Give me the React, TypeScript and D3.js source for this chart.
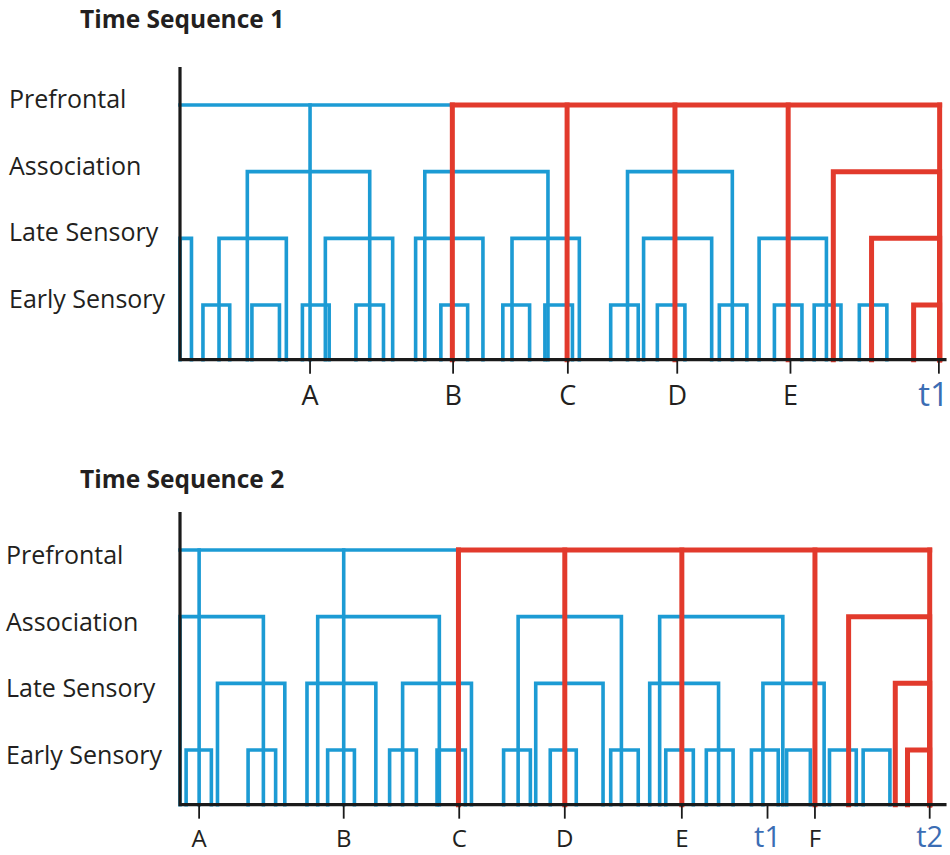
import { useEffect, useRef } from 'react';
import * as d3 from 'd3';

// Hand-drawn "dendrogram" of processing levels over time.
// x positions are in time units (0 = y axis, 100 = right end of the axis).

const LEVELS = ['Prefrontal', 'Association', 'Late Sensory', 'Early Sensory'];

type Seg = [number, number, string];          // from, to, colour
type Stem = [number, string];                 // time, colour (drops from Prefrontal)
type Bracket = [number, number, number, string]; // level, left, right, colour

// ---- Time Sequence 1 ----
const seq1Spine: Seg[] = [[0, 35.6, 'b'], [35.6, 99.3, 'r']];
const seq1Stems: Stem[] = [[17.0, 'b'], [35.6, 'r'], [50.6, 'r'], [64.7, 'r'], [79.5, 'r'], [99.3, 'r']];
const seq1Brackets: Bracket[] = [
  [1, 8.8, 24.8, 'b'], [1, 32.0, 48.1, 'b'], [1, 58.5, 72.2, 'b'], [1, 85.4, 99.3, 'r'],
  [2, 0, 1.5, 'b'], [2, 5.1, 13.9, 'b'], [2, 19.0, 27.8, 'b'], [2, 30.8, 39.6, 'b'],
  [2, 43.4, 52.2, 'b'], [2, 60.6, 69.5, 'b'], [2, 75.7, 84.5, 'b'], [2, 90.4, 99.3, 'r'],
  [3, 3.0, 6.5, 'b'], [3, 9.4, 13.0, 'b'], [3, 16.0, 19.5, 'b'], [3, 23.0, 26.6, 'b'],
  [3, 34.1, 37.6, 'b'], [3, 42.2, 45.7, 'b'], [3, 47.7, 51.3, 'b'], [3, 56.3, 59.9, 'b'],
  [3, 62.4, 66.0, 'b'], [3, 70.5, 74.1, 'b'], [3, 77.7, 81.3, 'b'], [3, 82.9, 86.4, 'b'],
  [3, 88.8, 92.4, 'b'], [3, 95.9, 99.3, 'r'],
];
const seq1Ticks = ['A', 'B', 'C', 'D', 'E', 't1'];
const seq1TickPos = [17.0, 35.7, 50.7, 65.0, 79.8, 99.2];

// ---- Time Sequence 2 ----
const seq2Spine: Seg[] = [[0, 36.4, 'b'], [36.4, 98.0, 'r']];
const seq2Stems: Stem[] = [[2.5, 'b'], [21.4, 'b'], [36.4, 'r'], [50.3, 'r'], [65.6, 'r'], [83.0, 'r'], [98.0, 'r']];
const seq2Brackets: Bracket[] = [
  [1, 0, 10.9, 'b'], [1, 18.0, 33.9, 'b'], [1, 44.2, 57.7, 'b'], [1, 62.7, 78.8, 'b'], [1, 87.4, 98.0, 'r'],
  [2, 4.9, 13.7, 'b'], [2, 16.6, 25.6, 'b'], [2, 29.1, 38.1, 'b'], [2, 46.5, 55.3, 'b'],
  [2, 61.4, 70.4, 'b'], [2, 76.2, 84.2, 'b'], [2, 93.5, 98.0, 'r'],
  [3, 0.8, 4.1, 'b'], [3, 8.9, 12.5, 'b'], [3, 19.3, 22.8, 'b'], [3, 27.4, 30.9, 'b'],
  [3, 33.6, 37.3, 'b'], [3, 42.3, 45.8, 'b'], [3, 48.4, 51.8, 'b'], [3, 56.3, 59.9, 'b'],
  [3, 63.5, 67.1, 'b'], [3, 68.8, 72.3, 'b'], [3, 74.7, 78.2, 'b'], [3, 79.3, 82.4, 'b'],
  [3, 84.9, 88.4, 'b'], [3, 89.3, 92.8, 'b'], [3, 95.1, 98.0, 'r'],
];
const seq2Ticks = ['A', 'B', 'C', 'D', 'E', 't1', 'F', 't2'];
const seq2TickPos = [2.5, 21.4, 36.5, 50.3, 65.6, 76.8, 83.0, 98.0];

const COLORS: Record<string, string> = {
  b: '#1c9bd4',
  r: '#e23a2c',
  axis: '#1a1a1a',
  text: '#231f20',
  time: '#3b6db4',
};
const WIDTH: Record<string, number> = { b: 3.6, r: 5 };
const FONT = '"Open Sans", "Noto Sans", sans-serif';

interface PanelSpec {
  title: string;
  titleY: number;
  labelX: number;
  labelDy: number;
  tickFont: number;
  timeFont: number;
  tickDy: number;
  timeDy: number;
  top: number; // y of the Prefrontal level
  spine: Seg[];
  stems: Stem[];
  brackets: Bracket[];
  ticks: string[];
  tickPos: number[];
}

const PANELS: PanelSpec[] = [
  {
    title: 'Time Sequence 1', titleY: 28, labelX: 9, labelDy: 3, tickFont: 27, timeFont: 33, tickDy: 45, timeDy: 46.5,
    top: 105, spine: seq1Spine, stems: seq1Stems, brackets: seq1Brackets, ticks: seq1Ticks, tickPos: seq1TickPos,
  },
  {
    title: 'Time Sequence 2', titleY: 488, labelX: 6, labelDy: 14, tickFont: 24, timeFont: 29, tickDy: 42.5, timeDy: 42,
    top: 550, spine: seq2Spine, stems: seq2Stems, brackets: seq2Brackets, ticks: seq2Ticks, tickPos: seq2TickPos,
  },
];

export default function App() {
  const svgRef = useRef<SVGSVGElement>(null);

  useEffect(() => {
    document.body.style.margin = '0';
    if (!svgRef.current) return;
    const svg = d3.select(svgRef.current);
    svg.selectAll('*').remove();

    const x = d3.scaleLinear().domain([0, 100]).range([180, 945]);

    PANELS.forEach((p) => {
      const y = d3.scaleLinear().domain([0, 3]).range([p.top, p.top + 200]);
      const base = y(3.82);
      const g = svg.append('g');

      // title
      g.append('text')
        .attr('x', 80)
        .attr('y', p.titleY)
        .attr('font-family', FONT)
        .attr('font-size', 24.5)
        .attr('font-weight', 700)
        .attr('fill', COLORS.text)
        .text(p.title);

      // level labels
      g.selectAll('text.level')
        .data(LEVELS)
        .join('text')
        .attr('class', 'level')
        .attr('x', p.labelX)
        .attr('y', (_, i) => y(i) + p.labelDy)
        .attr('font-family', FONT)
        .attr('font-size', 25)
        .attr('fill', COLORS.text)
        .text((d) => d);

      // draw blue first, red on top
      ['b', 'r'].forEach((c) => {
        const lines = g.append('g')
          .attr('fill', 'none')
          .attr('stroke', COLORS[c])
          .attr('stroke-width', WIDTH[c])
          .attr('stroke-linecap', 'square')
          .attr('stroke-linejoin', 'miter');

        p.brackets.filter((b) => b[3] === c).forEach(([lvl, a, bb]) => {
          lines.append('path')
            .attr('d', `M${x(a)},${base}V${y(lvl)}H${x(bb)}V${base}`);
        });
        p.stems.filter((s) => s[1] === c).forEach(([t]) => {
          lines.append('path').attr('d', `M${x(t)},${y(0)}V${base}`);
        });
        p.spine.filter((s) => s[2] === c).forEach(([a, bb]) => {
          lines.append('path').attr('d', `M${x(a)},${y(0)}H${x(bb)}`);
        });
      });

      // axes
      g.append('path')
        .attr('d', `M${x(0)},${y(-0.57)}V${base}H${x(100.2)}`)
        .attr('fill', 'none')
        .attr('stroke', COLORS.axis)
        .attr('stroke-width', 3.2);

      // ticks + labels
      p.ticks.forEach((label, i) => {
        const tx = x(p.tickPos[i]);
        g.append('line')
          .attr('x1', tx).attr('x2', tx)
          .attr('y1', base).attr('y2', base + 14)
          .attr('stroke', COLORS.axis)
          .attr('stroke-width', 1.8);
        const isTime = label.startsWith('t');
        const atEdge = tx + 16 > 950;
        g.append('text')
          .attr('x', atEdge ? 949 : tx)
          .attr('y', base + (isTime ? p.timeDy : p.tickDy))
          .attr('text-anchor', atEdge ? 'end' : 'middle')
          .attr('font-family', FONT)
          .attr('font-size', isTime ? p.timeFont : p.tickFont)
          .attr('fill', isTime ? COLORS.time : COLORS.text)
          .text(label);
      });
    });
  }, []);

  return (
    <svg
      ref={svgRef}
      width={950}
      height={855}
      style={{ display: 'block', background: '#fff' }}
      role="img"
      aria-label="Time sequence dendrograms"
    />
  );
}
